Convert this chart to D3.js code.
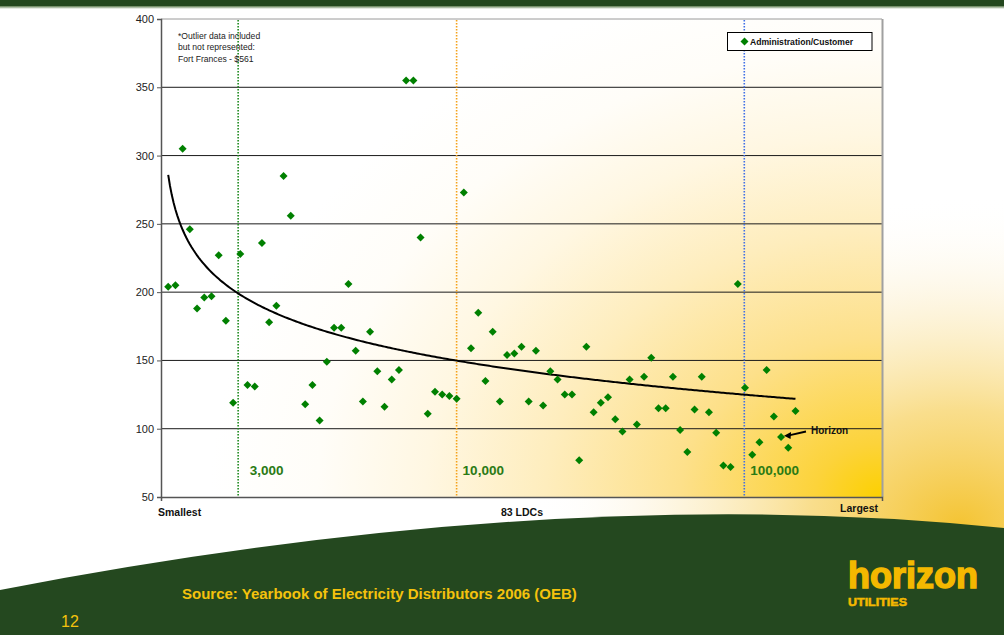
<!DOCTYPE html>
<html>
<head>
<meta charset="utf-8">
<script src="https://cdn.jsdelivr.net/npm/d3@7/dist/d3.min.js"></script>
<style>
  html, body { margin: 0; padding: 0; background: #ffffff; }
  svg { display: block; font-family: "Liberation Sans", Arial, sans-serif; }
</style>
</head>
<body>
<svg id="slide" width="1004" height="635"></svg>
<script>
// Administration cost per customer ($) for each LDC, ordered smallest to largest utility.
// Rank 19 (Fort Frances, $561) is part of the data set but lies above the plotted range.
const adminPerCustomer = [
  204, 205, 305, 246, 188, 196, 197, 227, 179, 119,
  228, 132, 131, 236, 178, 190, 285, 256, 561, 118,
  132, 106, 149, 174, 174, 206, 157, 120, 171, 142,
  116, 136, 143, 355, 355, 240, 111, 127, 125, 124,
  122, 273, 159, 185, 135, 171, 120, 154, 155, 160,
  120, 157, 117, 142, 136, 125, 125,  77, 160, 112,
  119, 123, 107,  98, 136, 103, 138, 152, 115, 115,
  138,  99,  83, 114, 138, 112,  97,  73,  72, 206,
  130,  81,  90, 143, 109,  94,  86, 113
];
const horizonRank = 86;

// Customer-count markers (position along the ranked axis)
const thresholdLabels = ["3,000", "10,000", "100,000"];
const thresholdRanks = [10.7, 41, 80.9];
const thresholdColors = ["#1f8a1f", "#f5a21a", "#3f6fe6"];

const yTicks = [50, 100, 150, 200, 250, 300, 350, 400];
const xDomain = [0, 100];
const yDomain = [50, 400];

const svg = d3.select("#slide");
const W = 1004, H = 635;
const plot = { left: 161, top: 19, right: 882, bottom: 497 };

const x = d3.scaleLinear().domain(xDomain).range([plot.left, plot.right]);
const y = d3.scaleLinear().domain(yDomain).range([plot.bottom, plot.top]);

const defs = svg.append("defs");

// plot fill: gold glow from lower right fading to white (wider than tall)
const pg = defs.append("radialGradient").attr("id", "plotGlow")
  .attr("gradientUnits", "userSpaceOnUse")
  .attr("cx", plot.right).attr("cy", plot.bottom).attr("r", 560)
  .attr("fx", plot.right).attr("fy", plot.bottom)
  .attr("gradientTransform", `translate(${plot.right},${plot.bottom}) scale(1.2,0.95) translate(${-plot.right},${-plot.bottom})`);
[[0, "#fcd000"], [0.1, "#fcd33a"], [0.3, "#fde08a"], [0.5, "#feedbd"], [0.68, "#fff7e2"], [0.84, "#fffdf8"], [1, "#ffffff"]]
  .forEach(([o, c]) => pg.append("stop").attr("offset", o).attr("stop-color", c));

// slide glow behind the right edge and above the footer band
const sg = defs.append("radialGradient").attr("id", "slideGlow")
  .attr("gradientUnits", "userSpaceOnUse")
  .attr("cx", 960).attr("cy", 525).attr("r", 330)
  .attr("gradientTransform", "translate(960,525) scale(1.3,1) translate(-960,-525)");
[[0, "#f4c433", 1], [0.35, "#f8d878", 0.85], [0.7, "#fcefcc", 0.5], [1, "#ffffff", 0]]
  .forEach(([o, c, a]) => sg.append("stop").attr("offset", o).attr("stop-color", c).attr("stop-opacity", a));

const topFade = defs.append("linearGradient").attr("id", "topFade").attr("x1", 0).attr("x2", 0).attr("y1", 0).attr("y2", 1);
topFade.append("stop").attr("offset", 0).attr("stop-color", "#5c7c4f");
topFade.append("stop").attr("offset", 1).attr("stop-color", "#ffffff");

defs.append("clipPath").attr("id", "plotClip").append("rect")
  .attr("x", plot.left).attr("y", plot.top)
  .attr("width", plot.right - plot.left).attr("height", plot.bottom - plot.top);

// slide background
svg.append("rect").attr("width", W).attr("height", H).attr("fill", "#ffffff");
svg.append("rect").attr("x", 500).attr("y", 150).attr("width", 504).attr("height", 420).attr("fill", "url(#slideGlow)");
svg.append("rect").attr("x", 0).attr("y", 0).attr("width", W).attr("height", 6).attr("fill", "#24481f");
svg.append("rect").attr("x", 0).attr("y", 6).attr("width", W).attr("height", 3).attr("fill", "url(#topFade)");

// footer band
svg.append("path")
  .attr("d", "M0,590 Q560,482 1004,528 L1004,635 L0,635 Z")
  .attr("fill", "#24481f");

// plot area
svg.append("rect")
  .attr("x", plot.left).attr("y", plot.top)
  .attr("width", plot.right - plot.left).attr("height", plot.bottom - plot.top)
  .attr("fill", "url(#plotGlow)");

// gridlines
svg.append("g").selectAll("line")
  .data(yTicks.filter(t => t > yDomain[0] && t < yDomain[1]))
  .join("line")
  .attr("x1", plot.left).attr("x2", plot.right)
  .attr("y1", d => y(d)).attr("y2", d => y(d))
  .attr("stroke", "#1a1a1a").attr("stroke-width", 1);

// plot frame (top and right)
svg.append("line").attr("x1", plot.left).attr("x2", plot.right).attr("y1", plot.top).attr("y2", plot.top)
  .attr("stroke", "#9a9a9a").attr("stroke-width", 1);
svg.append("line").attr("x1", plot.right + 0.5).attr("x2", plot.right + 0.5).attr("y1", plot.top).attr("y2", plot.bottom)
  .attr("stroke", "#a0a0a0").attr("stroke-width", 2);

// customer-count reference lines
const refs = svg.append("g");
thresholdRanks.forEach((r, i) => {
  refs.append("line")
    .attr("x1", x(r)).attr("x2", x(r)).attr("y1", plot.top + 1).attr("y2", plot.bottom)
    .attr("stroke", thresholdColors[i]).attr("stroke-width", 1.6)
    .attr("stroke-dasharray", "1.6,1.4");
});

// y axis
const yAxis = d3.axisLeft(y).tickValues(yTicks).tickSize(4).tickPadding(3).tickFormat(d3.format("d"));
const ya = svg.append("g").attr("transform", `translate(${plot.left},0)`).call(yAxis);
ya.select(".domain").attr("stroke", "#555").attr("stroke-width", 1.5);
ya.selectAll(".tick line").attr("stroke", "#555");
ya.selectAll(".tick text").attr("font-size", 11).attr("fill", "#222")
  .attr("font-family", "\"Liberation Sans\", Arial, sans-serif");

// x axis baseline
const xAxis = d3.axisBottom(x).tickValues([0]).tickSize(4).tickFormat("");
const xa = svg.append("g").attr("transform", `translate(0,${plot.bottom})`).call(xAxis);
xa.select(".domain").attr("stroke", "#555").attr("stroke-width", 1.5);
xa.selectAll(".tick line").attr("stroke", "#555");

// logarithmic trend fitted over every LDC (outlier included)
const pts = adminPerCustomer.map((v, i) => ({ rank: i + 1, value: v }));
function logFit(data) {
  const n = data.length;
  let sx = 0, sy = 0, sxx = 0, sxy = 0;
  data.forEach(d => { const lx = Math.log(d.rank); sx += lx; sy += d.value; sxx += lx * lx; sxy += lx * d.value; });
  const b = (n * sxy - sx * sy) / (n * sxx - sx * sx);
  const a = (sy - b * sx) / n;
  return { a, b };
}
const fit = logFit(pts);
const lastRank = pts[pts.length - 1].rank;
const trendRanks = d3.range(1, lastRank + 0.001, 0.25);
svg.append("path")
  .datum(trendRanks)
  .attr("clip-path", "url(#plotClip)")
  .attr("d", d3.line().x(r => x(r)).y(r => y(fit.a + fit.b * Math.log(r))))
  .attr("fill", "none").attr("stroke", "#000").attr("stroke-width", 2);

// markers
const diamond = d3.symbol().type(d3.symbolSquare).size(32);
svg.append("g").attr("clip-path", "url(#plotClip)")
  .selectAll("path")
  .data(pts.filter(d => d.value <= yDomain[1]))
  .join("path")
  .attr("d", diamond)
  .attr("transform", d => `translate(${x(d.rank)},${y(d.value)}) rotate(45)`)
  .attr("fill", "#008000");

// outlier note
const note = svg.append("text").attr("x", 178).attr("y", 38.5).attr("font-size", 8.6).attr("fill", "#222");
["*Outlier data included", "but not represented:", "Fort Frances - $561"].forEach((t, i) => {
  note.append("tspan").attr("x", 178).attr("dy", i === 0 ? 0 : 11.7).text(t);
});

// legend
const lg = svg.append("g");
lg.append("rect").attr("x", 727.5).attr("y", 32.5).attr("width", 144.5).attr("height", 18)
  .attr("fill", "#ffffff").attr("stroke", "#000").attr("stroke-width", 1);
lg.append("path").attr("d", diamond).attr("transform", "translate(744.5,41.5) rotate(45)").attr("fill", "#008000");
lg.append("text").attr("x", 750).attr("y", 44.6).attr("font-size", 8.6).attr("font-weight", "bold")
  .attr("fill", "#111").text("Administration/Customer");

// threshold labels, set just right of their lines
const labelOffsets = [11.5, 6, 6];
thresholdLabels.forEach((t, i) => {
  svg.append("text").attr("x", x(thresholdRanks[i]) + labelOffsets[i]).attr("y", 475)
    .attr("font-size", 13.5).attr("font-weight", "bold").attr("fill", "#2a7a14").text(t);
});

// Horizon callout
const hz = pts.find(d => d.rank === horizonRank);
svg.append("text").attr("x", 811).attr("y", 434).attr("font-size", 10).attr("font-weight", "bold")
  .attr("fill", "#111").text("Horizon");
svg.append("line").attr("x1", 806).attr("y1", 431.5).attr("x2", x(hz.rank) + 8).attr("y2", y(hz.value) - 1.5)
  .attr("stroke", "#000").attr("stroke-width", 1.8);
svg.append("path")
  .attr("d", d3.line()([[x(hz.rank) + 3, y(hz.value) - 1.2], [x(hz.rank) + 10, y(hz.value) - 5], [x(hz.rank) + 9.5, y(hz.value) + 2]]))
  .attr("fill", "#000");

// category labels under the axis
svg.append("text").attr("x", 158).attr("y", 516).attr("font-size", 10.5).attr("font-weight", "bold")
  .attr("fill", "#111").text("Smallest");
svg.append("text").attr("x", 501).attr("y", 516).attr("font-size", 10.5).attr("font-weight", "bold")
  .attr("fill", "#111").text("83 LDCs");
svg.append("text").attr("x", 878).attr("y", 512).attr("font-size", 10.5).attr("font-weight", "bold")
  .attr("text-anchor", "end").attr("fill", "#111").text("Largest");

// footer
svg.append("text").attr("x", 182).attr("y", 599).attr("font-size", 15).attr("font-weight", "bold")
  .attr("fill", "#f4c20d").text("Source: Yearbook of Electricity Distributors 2006 (OEB)");
svg.append("text").attr("x", 61).attr("y", 627).attr("font-size", 16)
  .attr("fill", "#f4c20d").text("12");

// logo
svg.append("text").attr("x", 848).attr("y", 588).attr("font-size", 37).attr("font-weight", "bold")
  .attr("textLength", 130).attr("lengthAdjust", "spacingAndGlyphs")
  .attr("stroke", "#f4b800").attr("stroke-width", 1.5)
  .attr("fill", "#f4b800").text("horizon");
svg.append("text").attr("x", 848).attr("y", 605.5).attr("font-size", 11).attr("font-weight", "bold")
  .attr("textLength", 59).attr("lengthAdjust", "spacingAndGlyphs")
  .attr("stroke", "#f4b800").attr("stroke-width", 0.5)
  .attr("fill", "#f4b800").text("UTILITIES");
</script>
</body>
</html>
